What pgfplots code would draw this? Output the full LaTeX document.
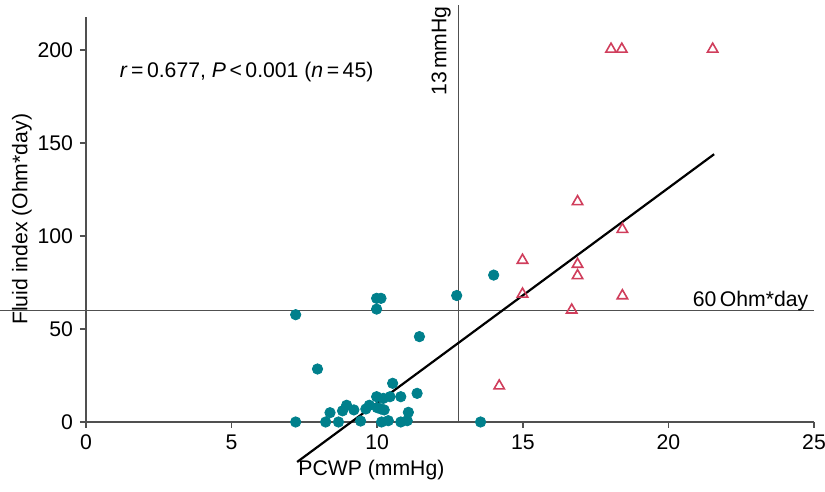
\documentclass[border=0pt]{standalone}
\usepackage{fontspec}
\setmainfont{Liberation Sans}
\usepackage{pgfplots}
\pgfplotsset{compat=1.18}
\usetikzlibrary{calc}
\definecolor{tealpt}{RGB}{0,128,140}
\definecolor{pinktri}{RGB}{208,62,92}
\definecolor{axgray}{RGB}{80,80,80}
\begin{document}
\begin{tikzpicture}[font=\fontsize{10.6pt}{12.7pt}\selectfont]
\begin{axis}[
  name=ax,
  scale only axis, width=364pt, height=202.7pt,
  xmin=0, xmax=25, ymin=0, ymax=218,
  axis x line*=bottom, axis y line*=left,
  clip=false,
  xtick={0,5,...,25}, ytick={0,50,...,200},
  tick align=outside, major tick length=3pt,
  axis line style={axgray, line width=0.75pt},
  every tick/.style={axgray, line width=0.75pt},
  /pgf/number format/assume math mode=true,
  xlabel={PCWP (mmHg)}, ylabel={Fluid index (Ohm*day)},
  xlabel style={at={(axis cs:9.8,0)}, anchor=center, yshift=-24pt},
  ylabel style={at={(axis description cs:-0.088,0.5)}, anchor=center},
]
% reference lines
\addplot[axgray, line width=0.6pt] coordinates {(-2.95,60) (25,60)};
\addplot[axgray, line width=0.6pt] coordinates {(12.8,0) (12.8,224)};
% regression line
\addplot[black, line width=1.1pt] coordinates {(7.25,-21.5) (21.57,144)};
% PCWP-low group
\addplot[only marks, mark=*, mark size=2.6pt, mark options={fill=tealpt, draw=tealpt}] coordinates {
(7.2,0) (7.2,57.7) (7.95,28.5) (8.23,0) (8.38,5) (8.67,0) (8.81,6) (8.95,9)
(9.2,6.5) (9.43,0.5) (9.61,7) (9.73,9) (9.98,13.6) (10.0,7.7) (10.13,7)
(10.24,6.5) (10.21,12.7) (10.44,13.6) (10.53,20.8) (10.15,0) (10.38,0.7)
(10.81,0) (10.81,13.6) (11.03,0.7) (11.07,5.2) (11.37,15.4) (11.45,45.9)
(9.98,60.7) (9.98,66.5) (10.13,66.5) (12.73,68) (14.0,79) (13.55,0)
};
% PCWP-high group
\addplot[only marks, mark=triangle, mark size=3pt, mark options={draw=pinktri, line width=0.8pt, fill=none}] coordinates {
(18.03,200.5) (18.4,200.5) (21.52,200.5) (16.88,118.5) (18.42,103.6)
(14.99,87) (16.88,84.8) (16.88,78.7) (14.99,68.8) (18.42,67.9)
(16.68,60.2) (14.19,19.4)
};
\node[anchor=west] at (axis cs:0.92,188) {\textit{r}\,=\,0.677, \textit{P}\,<\,0.001 (\textit{n}\,=\,45)};
\node[rotate=90, anchor=center] at (axis cs:12.2,199.5) {13\,mmHg};
\node[anchor=center] at (axis cs:22.82,64.8) {60\,Ohm*day};
\end{axis}
\pgfresetboundingbox
\path ($(ax.south west)+(-43pt,-35pt)$) rectangle ($(ax.south west)+(369.5pt,211pt)$);
\end{tikzpicture}
\end{document}
